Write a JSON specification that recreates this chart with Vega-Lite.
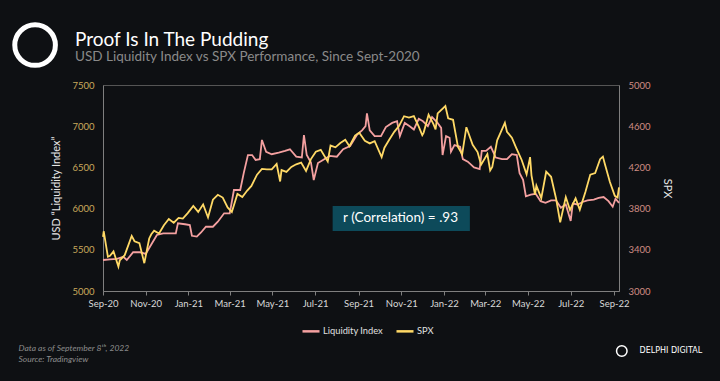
{
  "$schema": "https://vega.github.io/schema/vega-lite/v6.json",
  "width": 516,
  "height": 206,
  "autosize": "none",
  "padding": {"left": 103, "top": 85, "right": 101, "bottom": 90},
  "background": "#0e1013",
  "config": {
    "font": "Lato",
    "view": {"stroke": "#555555", "strokeWidth": 1},
    "axis": {"grid": false, "domainColor": "#7f7f7f", "tickColor": "#7f7f7f", "labelFont": "Lato", "titleFont": "Lato", "titleFontWeight": "normal"}
  },
  "title": {
    "text": "Proof Is In The Pudding",
    "subtitle": "USD Liquidity Index vs SPX Performance, Since Sept-2020",
    "anchor": "start",
    "frame": "group",
    "dx": -28,
    "dy": 69,
    "offset": 20,
    "font": "Lato",
    "fontSize": 19,
    "fontWeight": "normal",
    "color": "#ffffff",
    "subtitleFont": "Lato",
    "subtitleFontSize": 13.5,
    "subtitleColor": "#8a8a8a",
    "subtitlePadding": 0
  },
  "datasets": {
    "liq": [
      {"date": "2020-09-01", "value": 5376},
      {"date": "2020-09-11", "value": 5385},
      {"date": "2020-09-21", "value": 5390},
      {"date": "2020-09-30", "value": 5416},
      {"date": "2020-10-05", "value": 5376},
      {"date": "2020-10-14", "value": 5470},
      {"date": "2020-10-24", "value": 5470},
      {"date": "2020-11-01", "value": 5450},
      {"date": "2020-11-10", "value": 5579},
      {"date": "2020-11-17", "value": 5680},
      {"date": "2020-11-26", "value": 5700},
      {"date": "2020-12-06", "value": 5700},
      {"date": "2020-12-14", "value": 5700},
      {"date": "2020-12-17", "value": 5821},
      {"date": "2020-12-27", "value": 5810},
      {"date": "2021-01-03", "value": 5800},
      {"date": "2021-01-06", "value": 5670},
      {"date": "2021-01-13", "value": 5660},
      {"date": "2021-01-19", "value": 5710},
      {"date": "2021-01-26", "value": 5780},
      {"date": "2021-02-05", "value": 5780},
      {"date": "2021-02-12", "value": 5841},
      {"date": "2021-02-21", "value": 5943},
      {"date": "2021-03-01", "value": 5943},
      {"date": "2021-03-07", "value": 6226},
      {"date": "2021-03-16", "value": 6226},
      {"date": "2021-03-21", "value": 6430},
      {"date": "2021-03-27", "value": 6650},
      {"date": "2021-04-02", "value": 6650},
      {"date": "2021-04-07", "value": 6590},
      {"date": "2021-04-13", "value": 6600},
      {"date": "2021-04-16", "value": 6833},
      {"date": "2021-04-22", "value": 6690},
      {"date": "2021-04-30", "value": 6660},
      {"date": "2021-05-10", "value": 6680},
      {"date": "2021-05-19", "value": 6700},
      {"date": "2021-05-26", "value": 6720},
      {"date": "2021-06-04", "value": 6630},
      {"date": "2021-06-12", "value": 6620},
      {"date": "2021-06-15", "value": 6893},
      {"date": "2021-06-19", "value": 6650},
      {"date": "2021-06-25", "value": 6560},
      {"date": "2021-06-29", "value": 6347},
      {"date": "2021-07-05", "value": 6553},
      {"date": "2021-07-14", "value": 6600},
      {"date": "2021-07-22", "value": 6640},
      {"date": "2021-08-01", "value": 6630},
      {"date": "2021-08-10", "value": 6720},
      {"date": "2021-08-20", "value": 6760},
      {"date": "2021-08-30", "value": 6900},
      {"date": "2021-09-06", "value": 6950},
      {"date": "2021-09-11", "value": 7000},
      {"date": "2021-09-13", "value": 7156},
      {"date": "2021-09-17", "value": 6950},
      {"date": "2021-09-24", "value": 6880},
      {"date": "2021-10-03", "value": 6880},
      {"date": "2021-10-10", "value": 6990},
      {"date": "2021-10-19", "value": 7040},
      {"date": "2021-10-26", "value": 7060},
      {"date": "2021-10-30", "value": 6880},
      {"date": "2021-11-06", "value": 7040},
      {"date": "2021-11-13", "value": 7000},
      {"date": "2021-11-19", "value": 6960},
      {"date": "2021-11-26", "value": 7090},
      {"date": "2021-12-02", "value": 7060},
      {"date": "2021-12-09", "value": 7000},
      {"date": "2021-12-15", "value": 7110},
      {"date": "2021-12-22", "value": 7050},
      {"date": "2021-12-28", "value": 6980},
      {"date": "2021-12-30", "value": 6650},
      {"date": "2022-01-04", "value": 6880},
      {"date": "2022-01-09", "value": 6860},
      {"date": "2022-01-11", "value": 6690},
      {"date": "2022-01-16", "value": 6770},
      {"date": "2022-01-24", "value": 6750},
      {"date": "2022-01-28", "value": 6600},
      {"date": "2022-02-04", "value": 6570},
      {"date": "2022-02-13", "value": 6500},
      {"date": "2022-02-21", "value": 6480},
      {"date": "2022-02-24", "value": 6700},
      {"date": "2022-03-02", "value": 6700},
      {"date": "2022-03-09", "value": 6750},
      {"date": "2022-03-16", "value": 6620},
      {"date": "2022-03-25", "value": 6600},
      {"date": "2022-04-01", "value": 6600},
      {"date": "2022-04-08", "value": 6660},
      {"date": "2022-04-15", "value": 6650},
      {"date": "2022-04-19", "value": 6430},
      {"date": "2022-04-24", "value": 6350},
      {"date": "2022-04-28", "value": 6150},
      {"date": "2022-05-05", "value": 6170},
      {"date": "2022-05-12", "value": 6180},
      {"date": "2022-05-19", "value": 6090},
      {"date": "2022-05-26", "value": 6070},
      {"date": "2022-06-03", "value": 6100},
      {"date": "2022-06-10", "value": 6100},
      {"date": "2022-06-17", "value": 6010},
      {"date": "2022-06-24", "value": 6050},
      {"date": "2022-07-01", "value": 5850},
      {"date": "2022-07-04", "value": 6060},
      {"date": "2022-07-11", "value": 6050},
      {"date": "2022-07-18", "value": 6080},
      {"date": "2022-07-25", "value": 6100},
      {"date": "2022-08-03", "value": 6110},
      {"date": "2022-08-10", "value": 6130},
      {"date": "2022-08-17", "value": 6140},
      {"date": "2022-08-24", "value": 6090},
      {"date": "2022-08-30", "value": 6023},
      {"date": "2022-09-03", "value": 6120},
      {"date": "2022-09-08", "value": 6070}
    ],
    "spx": [
      {"date": "2020-09-01", "close": 3526},
      {"date": "2020-09-02", "close": 3580},
      {"date": "2020-09-08", "close": 3332},
      {"date": "2020-09-11", "close": 3341},
      {"date": "2020-09-16", "close": 3385},
      {"date": "2020-09-23", "close": 3237},
      {"date": "2020-09-25", "close": 3298},
      {"date": "2020-10-02", "close": 3348},
      {"date": "2020-10-12", "close": 3535},
      {"date": "2020-10-16", "close": 3483},
      {"date": "2020-10-23", "close": 3465},
      {"date": "2020-10-30", "close": 3270},
      {"date": "2020-11-06", "close": 3510},
      {"date": "2020-11-09", "close": 3551},
      {"date": "2020-11-13", "close": 3585},
      {"date": "2020-11-20", "close": 3558},
      {"date": "2020-11-27", "close": 3638},
      {"date": "2020-12-04", "close": 3699},
      {"date": "2020-12-11", "close": 3663},
      {"date": "2020-12-18", "close": 3709},
      {"date": "2020-12-24", "close": 3703},
      {"date": "2020-12-31", "close": 3756},
      {"date": "2021-01-08", "close": 3825},
      {"date": "2021-01-15", "close": 3768},
      {"date": "2021-01-22", "close": 3841},
      {"date": "2021-01-29", "close": 3714},
      {"date": "2021-02-05", "close": 3887},
      {"date": "2021-02-12", "close": 3934},
      {"date": "2021-02-19", "close": 3907},
      {"date": "2021-02-26", "close": 3811},
      {"date": "2021-03-04", "close": 3768},
      {"date": "2021-03-12", "close": 3943},
      {"date": "2021-03-19", "close": 3913},
      {"date": "2021-03-26", "close": 3975},
      {"date": "2021-04-01", "close": 4020},
      {"date": "2021-04-09", "close": 4129},
      {"date": "2021-04-16", "close": 4185},
      {"date": "2021-04-23", "close": 4180},
      {"date": "2021-04-30", "close": 4181},
      {"date": "2021-05-07", "close": 4233},
      {"date": "2021-05-12", "close": 4063},
      {"date": "2021-05-14", "close": 4174},
      {"date": "2021-05-21", "close": 4156},
      {"date": "2021-05-28", "close": 4204},
      {"date": "2021-06-04", "close": 4230},
      {"date": "2021-06-11", "close": 4247},
      {"date": "2021-06-18", "close": 4166},
      {"date": "2021-06-25", "close": 4281},
      {"date": "2021-07-02", "close": 4352},
      {"date": "2021-07-09", "close": 4370},
      {"date": "2021-07-19", "close": 4258},
      {"date": "2021-07-23", "close": 4412},
      {"date": "2021-07-30", "close": 4395},
      {"date": "2021-08-06", "close": 4437},
      {"date": "2021-08-13", "close": 4468},
      {"date": "2021-08-19", "close": 4406},
      {"date": "2021-08-27", "close": 4509},
      {"date": "2021-09-02", "close": 4537},
      {"date": "2021-09-10", "close": 4459},
      {"date": "2021-09-17", "close": 4433},
      {"date": "2021-09-24", "close": 4455},
      {"date": "2021-10-04", "close": 4300},
      {"date": "2021-10-08", "close": 4391},
      {"date": "2021-10-15", "close": 4471},
      {"date": "2021-10-22", "close": 4545},
      {"date": "2021-10-29", "close": 4605},
      {"date": "2021-11-05", "close": 4697},
      {"date": "2021-11-12", "close": 4683},
      {"date": "2021-11-19", "close": 4698},
      {"date": "2021-11-26", "close": 4595},
      {"date": "2021-12-01", "close": 4513},
      {"date": "2021-12-03", "close": 4538},
      {"date": "2021-12-10", "close": 4712},
      {"date": "2021-12-17", "close": 4620},
      {"date": "2021-12-20", "close": 4568},
      {"date": "2021-12-23", "close": 4725},
      {"date": "2022-01-03", "close": 4796},
      {"date": "2022-01-07", "close": 4677},
      {"date": "2022-01-14", "close": 4662},
      {"date": "2022-01-21", "close": 4398},
      {"date": "2022-01-27", "close": 4326},
      {"date": "2022-02-02", "close": 4590},
      {"date": "2022-02-11", "close": 4419},
      {"date": "2022-02-18", "close": 4349},
      {"date": "2022-02-23", "close": 4225},
      {"date": "2022-03-04", "close": 4329},
      {"date": "2022-03-08", "close": 4171},
      {"date": "2022-03-11", "close": 4204},
      {"date": "2022-03-18", "close": 4463},
      {"date": "2022-03-29", "close": 4632},
      {"date": "2022-04-01", "close": 4546},
      {"date": "2022-04-08", "close": 4488},
      {"date": "2022-04-14", "close": 4393},
      {"date": "2022-04-22", "close": 4272},
      {"date": "2022-04-29", "close": 4132},
      {"date": "2022-05-04", "close": 4300},
      {"date": "2022-05-06", "close": 4123},
      {"date": "2022-05-11", "close": 3935},
      {"date": "2022-05-13", "close": 4023},
      {"date": "2022-05-20", "close": 3901},
      {"date": "2022-05-27", "close": 4158},
      {"date": "2022-06-03", "close": 4109},
      {"date": "2022-06-10", "close": 3901},
      {"date": "2022-06-16", "close": 3667},
      {"date": "2022-06-24", "close": 3912},
      {"date": "2022-06-30", "close": 3785},
      {"date": "2022-07-08", "close": 3899},
      {"date": "2022-07-14", "close": 3790},
      {"date": "2022-07-22", "close": 3962},
      {"date": "2022-07-29", "close": 4130},
      {"date": "2022-08-05", "close": 4145},
      {"date": "2022-08-12", "close": 4280},
      {"date": "2022-08-16", "close": 4305},
      {"date": "2022-08-19", "close": 4228},
      {"date": "2022-08-26", "close": 4058},
      {"date": "2022-09-02", "close": 3924},
      {"date": "2022-09-06", "close": 3908},
      {"date": "2022-09-08", "close": 4006}
    ]
  },
  "layer": [
    {
      "layer": [
        {
          "data": {"name": "liq"},
          "mark": {"type": "line", "strokeWidth": 1.8},
          "encoding": {
            "x": {
              "field": "date", "type": "temporal",
              "scale": {"domain": [{"year": 2020, "month": 9, "date": 1}, {"year": 2022, "month": 9, "date": 8}]},
              "axis": {
                "values": [
                  {"year": 2020, "month": 9, "date": 1}, {"year": 2020, "month": 11, "date": 1},
                  {"year": 2021, "month": 1, "date": 1}, {"year": 2021, "month": 3, "date": 1},
                  {"year": 2021, "month": 5, "date": 1}, {"year": 2021, "month": 7, "date": 1},
                  {"year": 2021, "month": 9, "date": 1}, {"year": 2021, "month": 11, "date": 1},
                  {"year": 2022, "month": 1, "date": 1}, {"year": 2022, "month": 3, "date": 1},
                  {"year": 2022, "month": 5, "date": 1}, {"year": 2022, "month": 7, "date": 1},
                  {"year": 2022, "month": 9, "date": 1}
                ],
                "format": "%b-%y",
                "labelOverlap": false,
                "labelFlush": false,
                "labelColor": "#d9d9d9",
                "labelFontSize": 9.5,
                "labelPadding": 3,
                "tickSize": 4,
                "title": ["Data as of  September 8ᵗʰ, 2022", "Source: Tradingview"],
                "titleX": -85,
                "titleY": 59,
                "titleAlign": "left",
                "titleBaseline": "alphabetic",
                "titleFontSize": 8.5,
                "titleFontStyle": "italic",
                "titleColor": "#8c8c8c",
                "titleLineHeight": 11
              }
            },
            "y": {
              "field": "value", "type": "quantitative",
              "scale": {"domain": [5000, 7500], "nice": false},
              "axis": {
                "values": [5000, 5500, 6000, 6500, 7000, 7500],
                "format": "d",
                "ticks": false,
                "labelColor": "#c9a95c",
                "labelFontSize": 9.5,
                "labelPadding": 9,
                "title": "USD “Liquidity Index”",
                "titleColor": "#e6e6e6",
                "titleFontSize": 11,
                "titleAngle": -90,
                "titleBaseline": "bottom",
                "titleAlign": "center",
                "titleX": -42,
                "titleY": 103
              }
            },
            "color": {
              "datum": "Liquidity Index",
              "type": "nominal",
              "scale": {"domain": ["Liquidity Index", "SPX"], "range": ["#f4a0a0", "#ffd966"]},
              "legend": {
                "title": null,
                "orient": "none",
                "direction": "horizontal",
                "legendX": 198,
                "legendY": 236,
                "symbolType": "stroke",
                "symbolSize": 290,
                "symbolStrokeWidth": 2.5,
                "labelColor": "#e0e0e0",
                "labelFontSize": 9.3,
                "labelFont": "Lato",
                "labelOffset": 2,
                "columnPadding": 8
              }
            }
          }
        },
        {
          "data": {"values": [{}]},
          "mark": {"type": "rect", "color": "#0d4a5a"},
          "encoding": {
            "x": {"datum": {"year": 2021, "month": 7, "date": 26}, "type": "temporal"},
            "x2": {"datum": {"year": 2022, "month": 2, "date": 7}},
            "y": {"datum": 6032, "type": "quantitative"},
            "y2": {"datum": 5728}
          }
        },
        {
          "data": {"values": [{}]},
          "mark": {"type": "text", "text": "r (Correlation) = .93", "color": "#ffffff", "fontSize": 13.5, "font": "Lato", "align": "center", "baseline": "middle"},
          "encoding": {
            "x": {"datum": {"year": 2021, "month": 10, "date": 31}, "type": "temporal"},
            "y": {"datum": 5880, "type": "quantitative"}
          }
        },
        {
          "data": {"values": [{}]},
          "mark": {"type": "point", "shape": "circle", "filled": false, "color": "#ffffff", "strokeWidth": 5, "size": 1650, "opacity": 1},
          "encoding": {
            "x": {"datum": {"year": 2020, "month": 5, "date": 27}, "type": "temporal"},
            "y": {"datum": 7985, "type": "quantitative"}
          }
        },
        {
          "data": {"values": [{}]},
          "mark": {"type": "point", "shape": "circle", "filled": false, "color": "#ffffff", "strokeWidth": 1.5, "size": 110, "opacity": 1},
          "encoding": {
            "x": {"datum": {"year": 2022, "month": 9, "date": 12}, "type": "temporal"},
            "y": {"datum": 4272, "type": "quantitative"}
          }
        },
        {
          "data": {"values": [{}]},
          "mark": {"type": "text", "text": "DELPHI DIGITAL", "color": "#ffffff", "fontSize": 8, "font": "DejaVu Sans", "letterSpacing": 1.5, "align": "center", "baseline": "middle"},
          "encoding": {
            "x": {"datum": {"year": 2022, "month": 11, "date": 21}, "type": "temporal"},
            "y": {"datum": 4272, "type": "quantitative"}
          }
        }
      ]
    },
    {
      "data": {"name": "spx"},
      "mark": {"type": "line", "strokeWidth": 1.8},
      "encoding": {
        "x": {"field": "date", "type": "temporal"},
        "y": {
          "field": "close", "type": "quantitative",
          "scale": {"domain": [3000, 5000], "nice": false},
          "axis": {
            "orient": "right",
            "values": [3000, 3400, 3800, 4200, 4600, 5000],
            "format": "d",
            "ticks": false,
            "labelColor": "#d08c84",
            "labelFontSize": 9.5,
            "labelPadding": 9,
            "title": "SPX",
            "titleAngle": 90,
            "titleBaseline": "bottom",
            "titleAlign": "center",
            "titleX": 42,
            "titleY": 103,
            "titleColor": "#e6e6e6",
            "titleFontSize": 11
          }
        },
        "color": {"datum": "SPX", "type": "nominal"}
      }
    }
  ],
  "resolve": {"scale": {"y": "independent"}}
}
